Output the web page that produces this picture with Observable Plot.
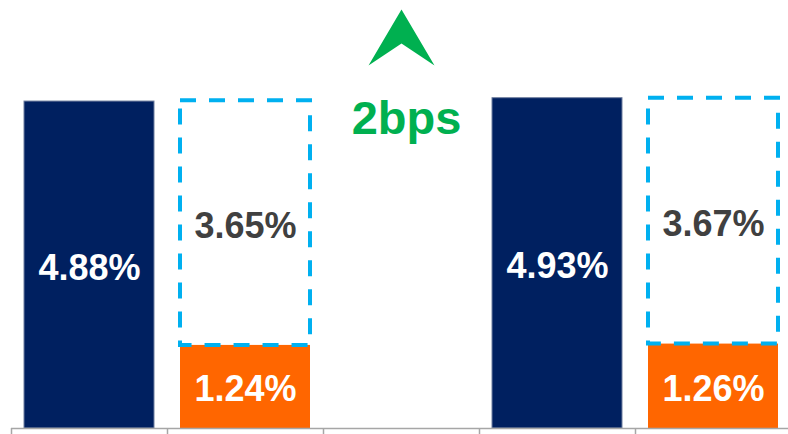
<!DOCTYPE html>
<html>
<head>
<meta charset="utf-8">
<script src="https://cdn.jsdelivr.net/npm/d3@7"></script>
<script src="https://cdn.jsdelivr.net/npm/@observablehq/plot@0.6"></script>
<style>
  html, body { margin: 0; padding: 0; background: #fff; }
  #chart svg { display: block; }
</style>
</head>
<body>
<div id="chart"></div>
<script>
// ---- data ----
const slots = ["Total 1", "Split 1", "Change", "Total 2", "Split 2"];
const totalSlots = ["Total 1", "Total 2"];
const totalValues = [4.88, 4.93];
const splitSlots = ["Split 1", "Split 2"];
const baseValues = [1.24, 1.26];
const extraValues = [3.65, 3.67];
const changeSlot = "Change";
const changeLabel = "2bps";

// ---- tables built from the arrays ----
const totals = totalSlots.map((s, i) => ({slot: s, value: totalValues[i]}));
const splits = splitSlots.map((s, i) => ({slot: s, base: baseValues[i], extra: extraValues[i]}));
const fmt = v => v.toFixed(2) + "%";

// ---- layout ----
const W = 788, H = 434;
const x0 = 11, x1 = 791, baseY = 428;
const step = (x1 - x0) / slots.length;
const font = "'Liberation Sans', Arial, sans-serif";

const NAVY = "#002060", ORANGE = "#ff6600", CYAN = "#00b0f0", GREEN = "#00b050", GREY = "#a6a6a6";

const upArrow = {
  draw(ctx) {
    ctx.moveTo(0, -28);
    ctx.lineTo(33, 28);
    ctx.lineTo(0, 6);
    ctx.lineTo(-33, 28);
    ctx.closePath();
  }
};

const plot = Plot.plot({
  width: W,
  height: H,
  marginTop: 0,
  marginBottom: 0,
  marginLeft: x0,
  marginRight: 0,
  style: {fontFamily: font, background: "#fff"},
  x: {domain: slots, range: [x0, x1], paddingInner: 0.167, paddingOuter: 0.0835, axis: null},
  y: {domain: [0, baseY / 67], range: [baseY, 0], axis: null},
  marks: [
    // navy total bars
    Plot.barY(totals, {x: "slot", y: "value", fill: NAVY, stroke: "#6f7f9f", strokeWidth: 1}),
    // orange base bars
    Plot.barY(splits, {x: "slot", y1: 0, y2: "base", fill: ORANGE}),
    // dashed outline for remainder
    Plot.barY(splits, {x: "slot", y1: "base", y2: d => d.base + d.extra, fill: "none",
      stroke: CYAN, strokeWidth: 4, strokeDasharray: "16,13"}),
    // baseline
    Plot.ruleY([0], {stroke: GREY, strokeWidth: 1.7}),
    // boundary ticks below the baseline
    Plot.ruleX(slots, {x: d => d, dx: -step / 2, insetTop: baseY, stroke: GREY, strokeWidth: 1.5}),
    // labels
    Plot.text(totals, {x: "slot", y: d => d.value / 2, text: d => fmt(d.value), fill: "#fff",
      fontSize: 36, fontWeight: "bold", dy: 3}),
    Plot.text(splits, {x: "slot", y: d => d.base / 2, text: d => fmt(d.base), fill: "#fff",
      fontSize: 36, fontWeight: "bold", dy: 3}),
    Plot.text(splits, {x: "slot", y: d => d.base + d.extra / 2, text: d => fmt(d.extra), fill: "#404040",
      fontSize: 36, fontWeight: "bold", dy: 3}),
    // change annotation
    Plot.dot([changeSlot], {x: d => d, frameAnchor: "top", dy: 37, symbol: upArrow, fill: GREEN, stroke: "none"}),
    Plot.text([changeLabel], {x: () => changeSlot, frameAnchor: "top", lineAnchor: "middle", dx: 5, dy: 118, text: d => d,
      fill: GREEN, fontSize: 47, fontWeight: "bold"})
  ]
});

document.getElementById("chart").appendChild(plot);
</script>
</body>
</html>
